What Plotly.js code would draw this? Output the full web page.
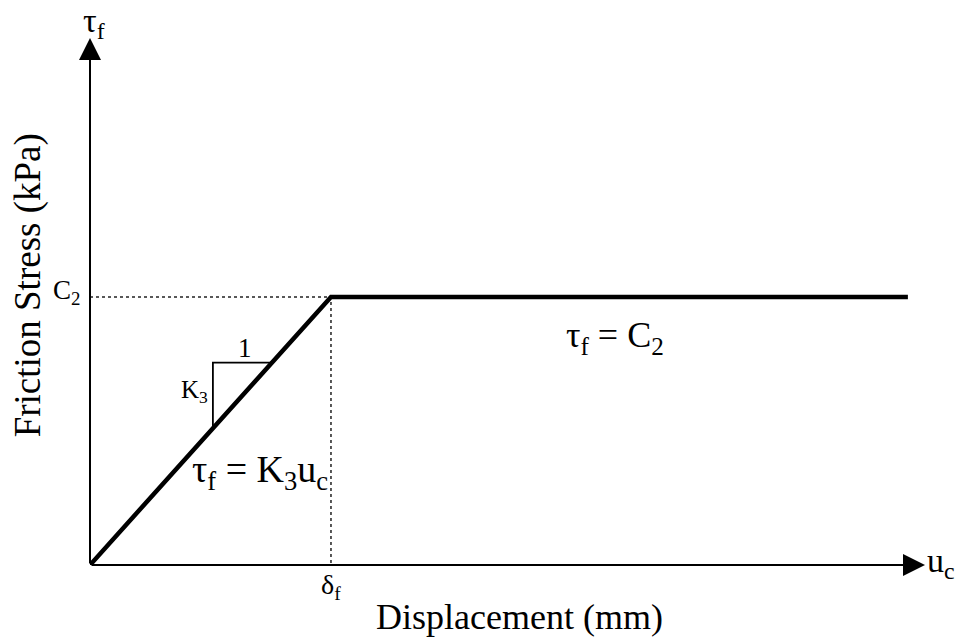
<!DOCTYPE html>
<html>
<head>
<meta charset="utf-8">
<script src="https://cdn.plot.ly/plotly-3.0.1.min.js"></script>
<style>
  html, body { margin: 0; padding: 0; background: #fff; }
  #chart { width: 955px; height: 638px; }
</style>
</head>
<body>
<div id="chart"></div>
<script>
// Bilinear friction law: linear rise up to the slip displacement, then constant
const displacement = [0, 1, 3.394];      // u_c, in units of delta_f
const frictionStress = [0, 1, 1];        // tau_f, in units of C2

// guide lines to the kink
const guideX = [0, 1, 1];
const guideY = [1, 1, 0];

// slope triangle on the rising branch
const slopeX = [0.51, 0.51, 0.755];
const slopeY = [0.51, 0.755, 0.755];

// axis extents (arrow tips)
const xMax = 3.465;
const yMax = 1.966;

const serif = 'Liberation Serif, Times New Roman, serif';

const traces = [
  {
    x: guideX, y: guideY, mode: 'lines', hoverinfo: 'skip',
    line: { color: '#222', width: 1.5, dash: 'dot' }
  },
  {
    x: slopeX, y: slopeY, mode: 'lines', hoverinfo: 'skip',
    line: { color: '#000', width: 1.8 }
  },
  {
    x: displacement, y: frictionStress, mode: 'lines',
    line: { color: '#000', width: 4.5 }
  }
];

const annotations = [
  // axes drawn as arrows
  { x: xMax, y: 0, ax: 0, ay: 0, xref: 'x', yref: 'y', axref: 'x', ayref: 'y',
    showarrow: true, arrowhead: 2, arrowsize: 2.2, arrowwidth: 2, arrowcolor: '#000', text: '' },
  { x: 0, y: yMax, ax: 0, ay: 0, xref: 'x', yref: 'y', axref: 'x', ayref: 'y',
    showarrow: true, arrowhead: 2, arrowsize: 2.2, arrowwidth: 2, arrowcolor: '#000', text: '' },
  // axis titles
  { x: 0.514, y: -0.099, xref: 'paper', yref: 'paper', xanchor: 'center', yanchor: 'middle', showarrow: false,
    text: 'Displacement (mm)', font: { family: serif, size: 36, color: '#000' } },
  { x: -0.074, y: 0.531, xref: 'paper', yref: 'paper', xanchor: 'center', yanchor: 'middle', showarrow: false,
    textangle: -90, text: 'Friction Stress (kPa)', font: { family: serif, size: 37, color: '#000' } },
  // axis symbols
  { x: 0, y: yMax, xref: 'x', yref: 'y', yanchor: 'bottom', xanchor: 'center', showarrow: false,
    text: 'τ<sub>f</sub>', font: { family: serif, size: 34, color: '#000' }, yshift: -8, xshift: 4 },
  { x: xMax, y: 0, xref: 'x', yref: 'y', xanchor: 'left', yanchor: 'middle', showarrow: false,
    text: 'u<sub>c</sub>', font: { family: serif, size: 34, color: '#000' }, xshift: 0, yshift: 2 },
  // level and displacement markers
  { x: 0, y: frictionStress[1], xref: 'x', yref: 'y', xanchor: 'right', yanchor: 'middle', showarrow: false,
    text: 'C<sub>2</sub>', font: { family: serif, size: 27, color: '#000' }, xshift: -8, yshift: 5 },
  { x: displacement[1], y: 0, xref: 'x', yref: 'y', xanchor: 'center', yanchor: 'top', showarrow: false,
    text: 'δ<sub>f</sub>', font: { family: serif, size: 28, color: '#000' }, yshift: -2 },
  // slope triangle labels
  { x: (slopeX[1] + slopeX[2]) / 2, y: slopeY[2], xref: 'x', yref: 'y', yanchor: 'bottom', showarrow: false,
    text: '1', font: { family: serif, size: 27, color: '#000' }, yshift: -2, xshift: 3 },
  { x: slopeX[0], y: (slopeY[0] + slopeY[1]) / 2, xref: 'x', yref: 'y', xanchor: 'right', yanchor: 'middle', showarrow: false,
    text: 'K<sub>3</sub>', font: { family: serif, size: 25, color: '#000' }, xshift: -3, yshift: 4 },
  // branch equations
  { x: 0.705, y: 0.347, xref: 'x', yref: 'y', xanchor: 'center', yanchor: 'middle', showarrow: false,
    text: 'τ<sub>f</sub> = K<sub>3</sub>u<sub>c</sub>', font: { family: serif, size: 38, color: '#000' } },
  { x: 2.178, y: 0.85, xref: 'x', yref: 'y', xanchor: 'center', yanchor: 'middle', showarrow: false,
    text: 'τ<sub>f</sub> = C<sub>2</sub>', font: { family: serif, size: 36, color: '#000' } }
];

const layout = {
  width: 955, height: 638,
  margin: { l: 90, r: 30, t: 38, b: 73, pad: 0 },
  paper_bgcolor: '#fff', plot_bgcolor: '#fff',
  showlegend: false,
  font: { family: serif, color: '#000' },
  xaxis: {
    range: [0, xMax], showgrid: false, zeroline: false, showline: false,
    showticklabels: false, ticks: '', fixedrange: true, automargin: false
  },
  yaxis: {
    range: [0, yMax], showgrid: false, zeroline: false, showline: false,
    showticklabels: false, ticks: '', fixedrange: true, automargin: false
  },
  annotations: annotations
};

Plotly.newPlot('chart', traces, layout, { staticPlot: true, displayModeBar: false });
</script>
</body>
</html>
